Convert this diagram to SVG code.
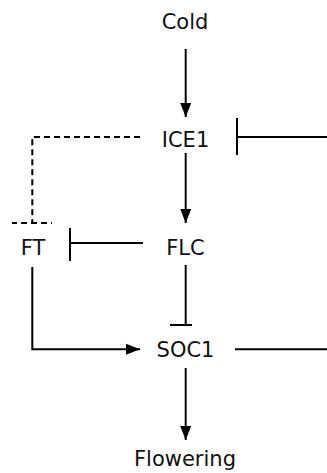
<svg xmlns="http://www.w3.org/2000/svg" width="327" height="473" viewBox="0 0 327 473">
<defs>
<style>
text{font-family:"DejaVu Sans","Verdana",sans-serif;font-size:21px;fill:#111;text-anchor:middle}
.l{stroke:#000;stroke-width:2;fill:none}
.d{stroke:#000;stroke-width:2;fill:none;stroke-dasharray:6 4}
</style>
<marker id="arr" viewBox="0 0 14 12" refX="14" refY="6" markerWidth="14" markerHeight="12" markerUnits="userSpaceOnUse" orient="auto">
<path d="M0,0.5 L14,6 L0,11.5 Z" fill="#000"/>
</marker>
</defs>
<rect width="327" height="473" fill="#fff"/>
<g id="connectors">
<line class="l" x1="185.7" y1="49" x2="185.7" y2="117" marker-end="url(#arr)"/>
<line class="l" x1="185.7" y1="153" x2="185.7" y2="223" marker-end="url(#arr)"/>
<line class="l" x1="185.7" y1="265" x2="185.7" y2="325"/>
<line class="l" x1="170" y1="325" x2="192" y2="325"/>
<line class="l" x1="237" y1="137" x2="327" y2="137"/>
<line class="l" x1="237" y1="118" x2="237" y2="155"/>
<line class="l" x1="70" y1="243" x2="143" y2="243"/>
<line class="l" x1="70" y1="228" x2="70" y2="261"/>
<path class="d" d="M140,137 H32.3 V223"/>
<line class="d" x1="12" y1="223" x2="52" y2="223" stroke-dashoffset="1"/>
<path class="l" d="M32.3,267 V349.3 H140" marker-end="url(#arr)"/>
<line class="l" x1="235" y1="349.3" x2="327" y2="349.3"/>
<line class="l" x1="185.7" y1="368" x2="185.7" y2="440" marker-end="url(#arr)"/>
</g>
<g id="cold"><text x="185" y="29">Cold</text></g>
<g id="ice1"><text x="185.5" y="146.5">ICE1</text></g>
<g id="ft"><text x="33" y="255">FT</text></g>
<g id="flc"><text x="185.5" y="255">FLC</text></g>
<g id="soc1"><text x="185.5" y="357">SOC1</text></g>
<g id="flowering"><text x="185" y="466">Flowering</text></g>
</svg>
